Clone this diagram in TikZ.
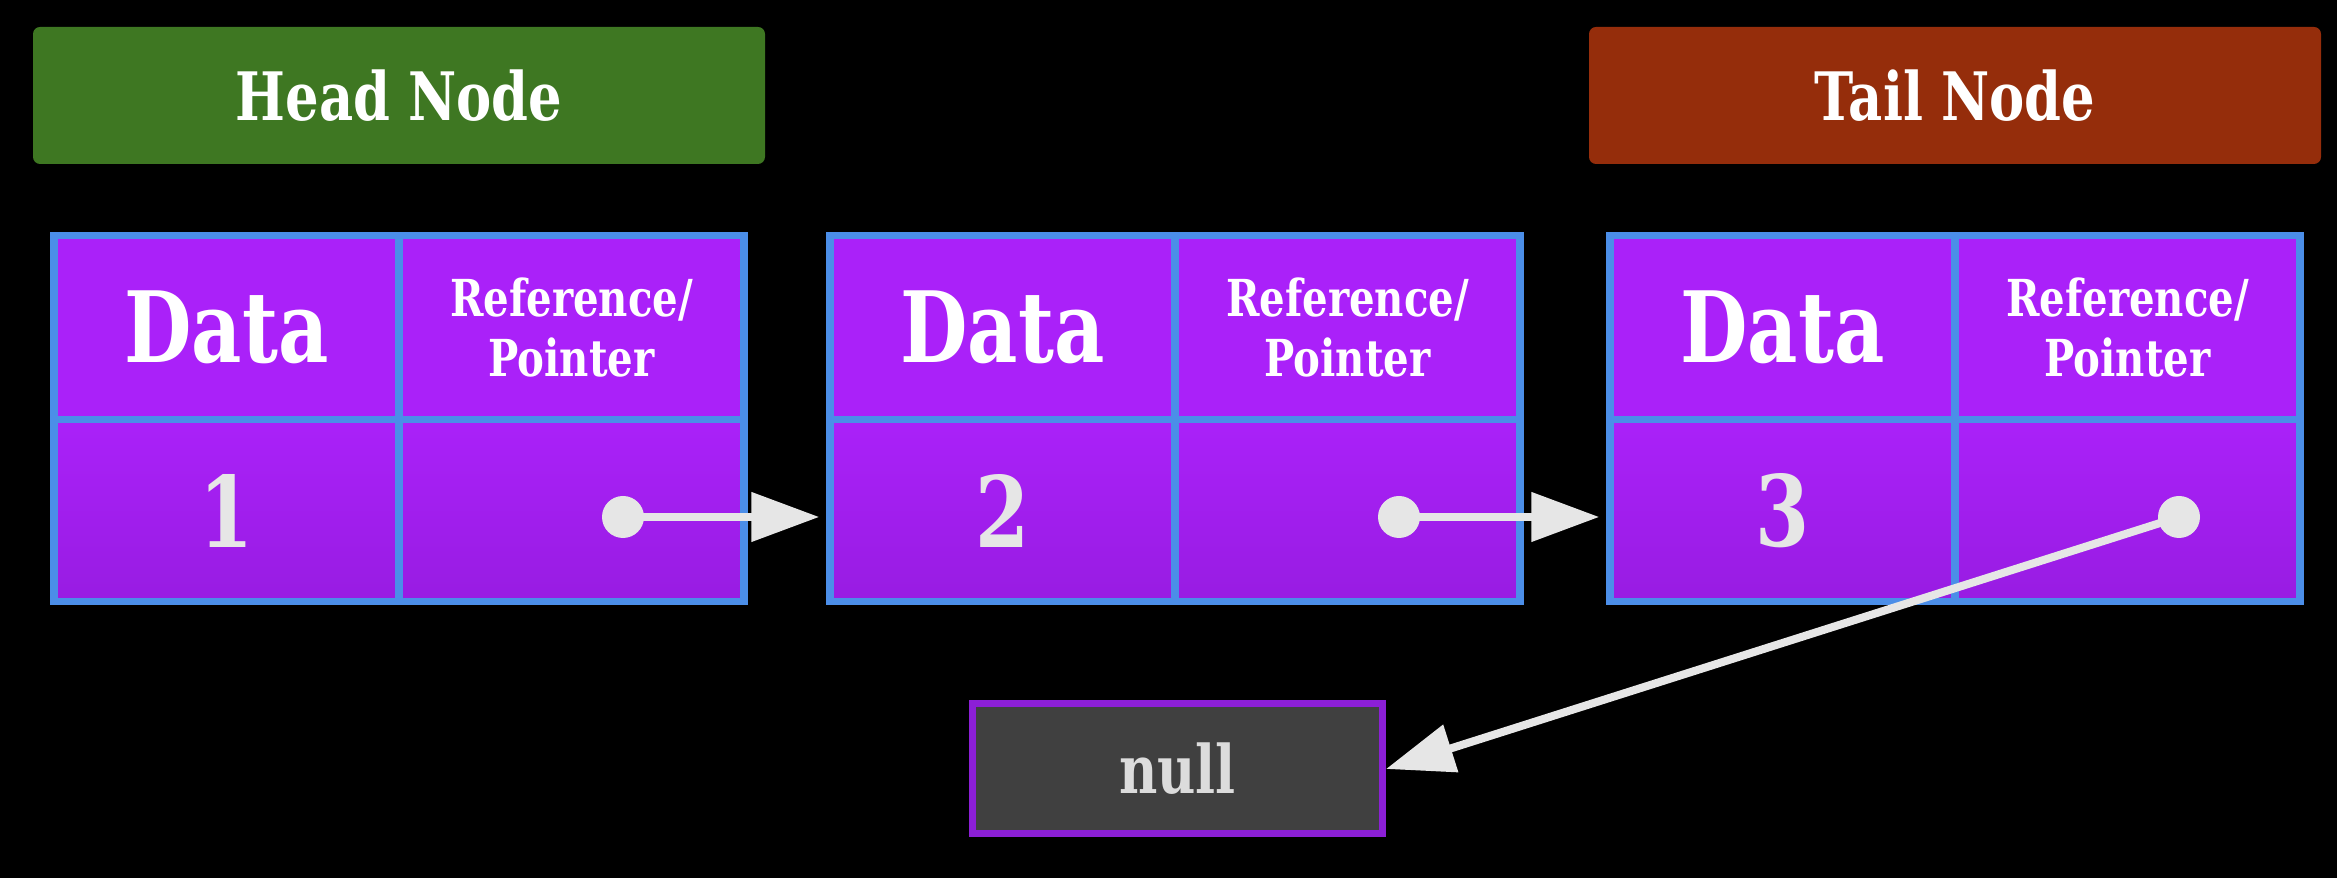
\documentclass[tikz,border=0pt]{standalone}
\usepackage{fontspec}
\setmainfont{DejaVu Serif}[FakeStretch=0.79]
\usetikzlibrary{arrows.meta,positioning}

\definecolor{headgreen}{HTML}{3E7722}
\definecolor{tailred}{HTML}{952D0B}
\definecolor{cellpurple}{HTML}{AA21F9}
\definecolor{celldark}{HTML}{981CE2}
\definecolor{cellblue}{HTML}{4B8EE8}
\definecolor{nullgrey}{HTML}{404040}
\definecolor{nullrim}{HTML}{8C1FD6}
\definecolor{arrowgrey}{HTML}{E6E6E6}

\tikzstyle{tag} = [rectangle, rounded corners=2pt, minimum width=7.32cm, minimum height=1.37cm, text=white, font=\bfseries\fontsize{19}{22}\selectfont]
\tikzstyle{cell top} = [rectangle, draw=cellblue, line width=0.075cm, fill=cellpurple, minimum width=3.45cm, minimum height=1.84cm, text=white, font=\bfseries\fontsize{28}{32}\selectfont, align=center]
\tikzstyle{cell low} = [rectangle, draw=cellblue, line width=0.075cm, top color=cellpurple, bottom color=celldark, minimum width=3.45cm, minimum height=1.82cm, text=arrowgrey, font=\bfseries\fontsize{28}{32}\selectfont]
\tikzstyle{refcell} = [font=\bfseries\fontsize{14.5}{17}\selectfont]
\tikzstyle{dot} = [circle, fill=arrowgrey, inner sep=0pt, minimum size=0.42cm]
\tikzstyle{nullbox} = [rectangle, draw=nullrim, line width=0.07cm, fill=nullgrey, minimum width=4.1cm, minimum height=1.3cm, text=arrowgrey!90!gray, font=\bfseries\fontsize{19}{22}\selectfont]
\tikzstyle{pointer} = [draw=arrowgrey, line width=0.08cm, -{Triangle[length=0.68cm, width=0.48cm]}]

\begin{document}
\begin{tikzpicture}

	\fill[black] (0,0) rectangle (23.37,8.78);
	\useasboundingbox (0,0) rectangle (23.37,8.78);

	% labels on top
	\node[tag, fill=headgreen] (head) at (3.99,7.825) {Head Node};
	\node[tag, fill=tailred] (tail) at (19.55,7.825) {Tail Node};

	% the three list nodes
	\foreach \i/\x in {1/0.54, 2/8.30, 3/16.10} {
		\node[cell top] (d\i) at (\x+1.725,5.505) {Data};
		\node[cell top, refcell] (r\i) at (\x+5.175,5.505) {Reference/\\Pointer};
		\node[cell low] (v\i) at (\x+1.725,3.675) {\i};
		\node[cell low] (p\i) at (\x+5.175,3.675) {};
		\node[dot] (dot\i) at (\x+5.69,3.61) {};
	}

	\node[nullbox] (null) at (11.775,1.09) {null};

	% references
	\draw[pointer, shorten >=0.07cm] (dot1.center) -- (dot1 -| v2.west);
	\draw[pointer, shorten >=0.07cm] (dot2.center) -- (dot2 -| v3.west);
	\draw[pointer] (dot3.center) -- (null.east);

\end{tikzpicture}
\end{document}
